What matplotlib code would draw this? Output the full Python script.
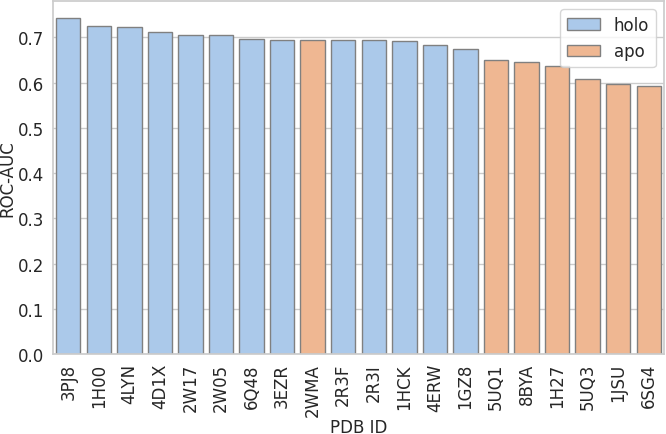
import matplotlib
matplotlib.use("Agg")
import matplotlib.pyplot as plt
import seaborn as sns
import pandas as pd

pdb_ids = ["3PJ8", "1H00", "4LYN", "4D1X", "2W17", "2W05", "6Q48", "3EZR", "2WMA", "2R3F",
           "2R3I", "1HCK", "4ERW", "1GZ8", "5UQ1", "8BYA", "1H27", "5UQ3", "1JSU", "6SG4"]
roc_auc = [0.743, 0.726, 0.723, 0.712, 0.704, 0.704, 0.696, 0.694, 0.693, 0.693,
           0.693, 0.691, 0.682, 0.673, 0.649, 0.645, 0.637, 0.607, 0.597, 0.593]
struct_type = ["holo"] * 8 + ["apo"] + ["holo"] * 5 + ["apo"] * 6

df = pd.DataFrame({"PDB ID": pdb_ids, "ROC-AUC": roc_auc, "type": struct_type})

sns.set_theme(style="whitegrid", palette="pastel")
plt.rcParams["font.family"] = ["DejaVu Sans"]
fig, ax = plt.subplots(figsize=(6.66, 4.35), dpi=100)
sns.barplot(data=df, x="PDB ID", y="ROC-AUC", hue="type", hue_order=["holo", "apo"],
            dodge=False, edgecolor="gray", ax=ax)
ax.tick_params(axis="x", rotation=90, labelsize=12, length=0, pad=6.5)
ax.tick_params(axis="y", labelsize=12, length=0, pad=6.5)
ax.set_xlabel("PDB ID", fontsize=12)
ax.set_ylabel("ROC-AUC", fontsize=12)
ax.yaxis.set_label_coords(-0.0605, 0.5)
ax.xaxis.set_label_coords(0.5, -0.181)
ax.legend(loc="upper right", fontsize=12)
fig.subplots_adjust(left=53 / 666, right=664 / 666, top=1 - 2 / 435, bottom=1 - 355 / 435)
fig.savefig("out.png")
